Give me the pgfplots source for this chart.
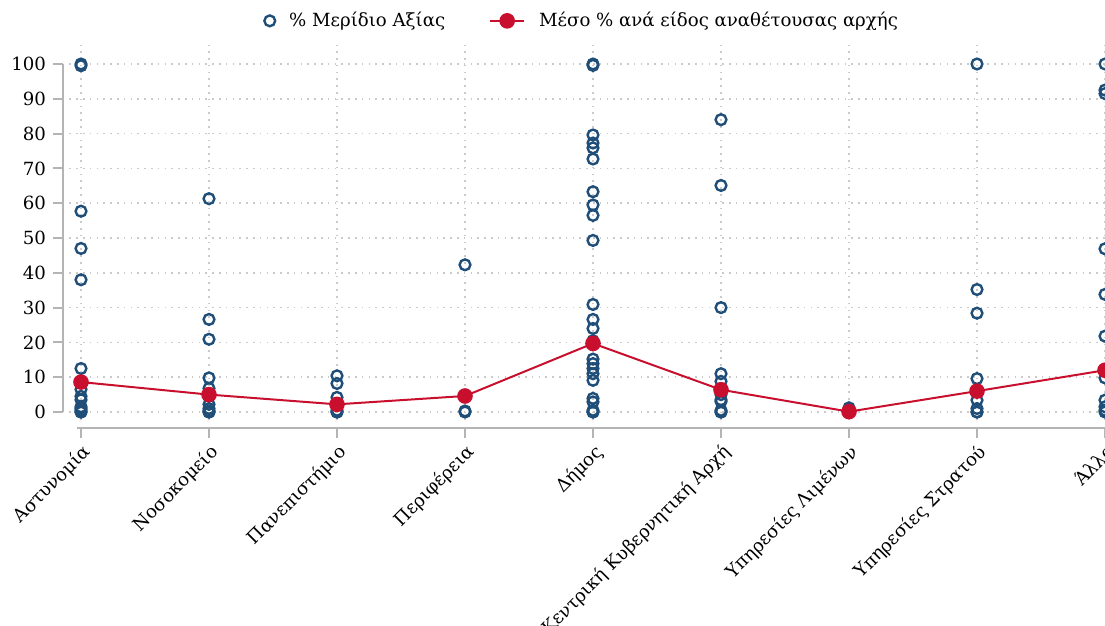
\documentclass[border=0pt]{standalone}
\usepackage{pgfplots}
\usepackage{pgfplotstable}
\pgfplotsset{compat=1.18}
\usepackage{fontspec}
\setmainfont{DejaVu Serif}
\definecolor{navy}{HTML}{1F4E79}
\definecolor{crim}{HTML}{C8102E}
\definecolor{axgray}{HTML}{B4B4B4}
\definecolor{gridgray}{HTML}{CACACA}

% shares per contract, by type of contracting authority (0..8)
\pgfplotstableread{
x y
0 100
0 99.5
0 57.7
0 47
0 38
0 12.5
0 6.5
0 4.5
0 3.5
0 1.5
0 1
0 0.5
0 0
0 0
1 61.3
1 26.6
1 20.9
1 9.8
1 6.8
1 5
1 2.2
1 1
1 0.3
1 0
1 0
2 10.4
2 8.2
2 4.2
2 0.5
2 0
2 0
3 42.3
3 0.3
3 0
4 100
4 99.6
4 79.6
4 77.3
4 75.9
4 72.7
4 63.3
4 59.5
4 56.5
4 49.3
4 30.9
4 26.6
4 24
4 20.5
4 15.2
4 13.9
4 12.5
4 11
4 9.1
4 3.9
4 2.9
4 0.5
4 0
4 0
5 84
5 65.1
5 30
5 11
5 8.8
5 5
5 3.5
5 3
5 0.5
5 0
5 0
6 1.2
6 0
6 0
7 100
7 35.2
7 28.4
7 9.6
7 3.4
7 1
7 0
7 0
8 100
8 92.5
8 91.5
8 46.9
8 33.8
8 21.8
8 9.8
8 3.4
8 1.5
8 0.5
8 0
}\shares

\pgfplotstableread{
x y
0 8.6
1 5.0
2 2.2
3 4.6
4 19.7
5 6.4
6 0.1
7 6.0
8 12.0
}\means

\begin{document}
\begin{tikzpicture}[font=\fontsize{9.1}{11}\selectfont]
\begin{scope}
\clip (-40.5bp,-107bp) rectangle (512bp,206bp);
\begin{axis}[
  at={(0,0)}, anchor=origin,
  x=64bp, y=1.74bp,
  xmin=-0.09, xmax=8.1, ymin=-2.3, ymax=105.5,
  clip=false,
  axis lines*=left,
  axis x line shift=4.1bp,
  axis y line shift=3.25bp,
  axis line style={axgray, line width=1.2bp},
  x axis line style={shorten <=4bp},
  y axis line style={shorten <=4bp, shorten >=9.6bp},
  tick style={axgray, line width=1bp},
  major tick length=5bp,
  tick align=outside,
  xtick={0,...,8},
  xticklabels={Αστυνομία, Νοσοκομείο, Πανεπιστήμιο, Περιφέρεια, Δήμος,
    Κεντρική Κυβερνητική Αρχή, Υπηρεσίες Λιμένων, Υπηρεσίες Στρατού, Άλλο},
  xticklabel style={rotate=45, anchor=north east, inner sep=1.5bp},
  ytick={0,10,...,100},
  /pgf/number format/assume math mode=true,
  xmajorgrids, ymajorgrids,
  grid style={gridgray, line width=0.8bp, dash pattern=on 0.8bp off 2.6bp},
  legend style={draw=none, fill=none,
    at={(axis description cs:0.49,1.064)}, anchor=center,
    /tikz/every odd column/.append style={column sep=5bp},
    /tikz/every even column/.append style={column sep=20bp}},
  legend columns=2,
  legend cell align=left,
]
\addplot[only marks, mark=o, mark size=2.7bp,
  mark options={navy, line width=1.2bp}] table[x=x, y=y] {\shares};
\addlegendentry{\% Μερίδιο Αξίας}
\addplot[crim, line width=1bp, mark=*, mark size=3.4bp,
  mark options={crim}] table[x=x, y=y] {\means};
\addlegendentry{Μέσο \% ανά είδος αναθέτουσας αρχής}
\end{axis}
\end{scope}
\pgfresetboundingbox
\path[use as bounding box] (-40.5bp,-107bp) rectangle (512bp,206bp);
\end{tikzpicture}
\end{document}
